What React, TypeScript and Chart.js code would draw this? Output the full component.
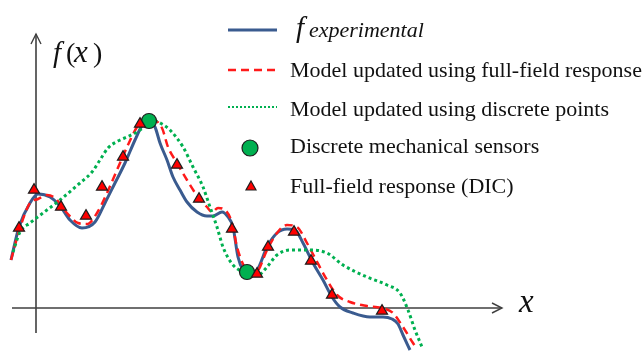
import React, { useEffect, useRef } from "react";
import { Chart, registerables } from "chart.js";

Chart.register(...registerables);

// Measured response f(x)
const experimentalX = [-2.5, -1.7, -0.6, 0.2, 1.4, 2.4, 3.4, 4.6, 5.9, 6.9, 7.9, 8.9, 9.9, 10.7, 11.3, 11.9, 12.4, 13.1, 13.7, 14.4, 15.1, 16.1, 17.1, 17.7, 18.6, 19.2, 19.7, 20.2, 20.7, 21.2, 22.1, 23.1, 24.1, 25.1, 25.9, 26.7, 27.7, 28.7, 29.6, 30.4, 31.7, 33.4, 34.7, 35.6, 36.2, 36.7, 37.4];
const experimentalY = [4.8, 8.1, 10.5, 11.4, 11.1, 10.2, 8.8, 8.0, 8.6, 10.5, 12.5, 14.5, 16.8, 18.4, 18.7, 18.1, 16.5, 14.8, 13.1, 11.8, 10.6, 9.6, 9.2, 9.2, 9.6, 9.1, 8.1, 5.1, 3.8, 3.5, 3.8, 6.1, 7.5, 7.9, 7.8, 6.5, 4.5, 2.8, 1.1, 0.1, -0.5, -0.9, -0.9, -1.1, -1.6, -2.7, -4.2];

// Model updated with the full-field (DIC) response
const fullFieldX = [-2.5, -1.6, -0.6, 0.2, 1.1, 1.9, 3.1, 4.2, 5.1, 6.1, 7.1, 8.1, 9.1, 10.1, 10.8, 11.4, 12.6, 13.2, 14.1, 15.1, 16.2, 17.1, 17.6, 18.2, 18.9, 19.6, 20.1, 20.9, 21.5, 22.1, 23.1, 24.1, 25.1, 26.1, 27.1, 27.9, 29.1, 30.1, 31.4, 33.1, 34.6, 35.7, 36.7, 37.7, 38.1];
const fullFieldY = [4.8, 8.0, 10.5, 10.9, 11.3, 11.0, 9.5, 8.5, 8.4, 9.5, 11.5, 13.8, 16.1, 18.1, 18.9, 18.9, 18.0, 16.1, 14.5, 12.8, 11.1, 10.1, 9.6, 10.0, 9.8, 8.5, 6.1, 4.0, 3.4, 3.6, 5.8, 7.5, 8.3, 8.1, 6.5, 5.0, 2.8, 1.3, 0.6, 0.2, 0.0, -0.5, -1.9, -3.5, -4.1];

// Model updated with the discrete sensor readings only
const discreteX = [-2.3, -1.6, -0.6, 0.7, 2.4, 4.4, 5.6, 6.4, 7.2, 8.2, 9.1, 10.1, 11.1, 11.9, 12.6, 13.4, 14.7, 15.7, 16.7, 17.4, 18.1, 18.7, 19.7, 21.1, 22.2, 23.1, 24.1, 25.4, 27.4, 29.1, 30.7, 33.1, 35.1, 36.4, 37.2, 37.9, 38.6];
const discreteY = [5.6, 7.6, 8.5, 9.5, 10.8, 12.5, 13.6, 14.8, 16.0, 16.7, 17.1, 17.6, 18.3, 18.7, 18.4, 17.8, 16.1, 14.1, 12.1, 10.1, 8.1, 6.1, 4.3, 3.5, 3.3, 4.1, 5.3, 5.8, 5.8, 5.5, 4.3, 3.1, 2.3, 1.5, -0.2, -2.2, -3.9];

// Discrete mechanical sensors
const sensorX = [11.3, 21.1];
const sensorY = [18.7, 3.6];

// Full-field response samples (DIC)
const dicX = [-1.7, -0.2, 2.5, 5.0, 6.6, 8.7, 10.4, 14.1, 16.3, 19.6, 22.1, 23.2, 25.8, 27.5, 29.6, 34.6];
const dicY = [8.0, 11.8, 10.1, 9.2, 12.1, 15.1, 18.4, 14.3, 10.9, 7.9, 3.4, 6.1, 7.6, 4.7, 1.3, -0.3];

// Axis extents
const X_AXIS_FROM = -2.4;
const X_AXIS_TO = 46.6;
const Y_AXIS_FROM = -2.5;
const Y_AXIS_TO = 27.4;

const BLUE = "#3a5b8f";
const RED = "#ff1a1a";
const GREEN = "#00b050";
const SERIF = '"Liberation Serif", "Times New Roman", serif';

const toPoints = (xs: number[], ys: number[]) => xs.map((x, i) => ({ x, y: ys[i] }));

const arrowAxes = {
  id: "arrowAxes",
  beforeDatasetsDraw(chart: any) {
    const { ctx, scales } = chart;
    const xs = scales.x;
    const ys = scales.y;
    const x0 = xs.getPixelForValue(0);
    const y0 = ys.getPixelForValue(0);
    const xl = xs.getPixelForValue(X_AXIS_FROM);
    const xr = xs.getPixelForValue(X_AXIS_TO);
    const yb = ys.getPixelForValue(Y_AXIS_FROM);
    const yt = ys.getPixelForValue(Y_AXIS_TO);
    ctx.save();
    ctx.strokeStyle = "#404040";
    ctx.lineWidth = 1.6;
    ctx.beginPath();
    ctx.moveTo(xl, y0);
    ctx.lineTo(xr, y0);
    ctx.moveTo(x0, yb);
    ctx.lineTo(x0, yt);
    ctx.stroke();
    ctx.lineWidth = 1.4;
    ctx.beginPath();
    ctx.moveTo(xr - 10, y0 - 5);
    ctx.lineTo(xr, y0);
    ctx.lineTo(xr - 10, y0 + 5);
    ctx.moveTo(x0 - 5, yt + 10);
    ctx.lineTo(x0, yt);
    ctx.lineTo(x0 + 5, yt + 10);
    ctx.stroke();

    // axis labels
    ctx.fillStyle = "#111";
    ctx.textBaseline = "alphabetic";
    ctx.textAlign = "left";
    const by = yt + 28;
    ctx.font = `italic 29px ${SERIF}`;
    ctx.fillText("f", x0 + 17, by);
    ctx.font = `28px ${SERIF}`;
    ctx.fillText("(", x0 + 30, by);
    ctx.font = `italic 31px ${SERIF}`;
    ctx.fillText("x", x0 + 38, by);
    ctx.font = `28px ${SERIF}`;
    ctx.fillText(")", x0 + 57, by);
    ctx.font = `italic 33px ${SERIF}`;
    ctx.fillText("x", xr + 17, y0 + 4);
    ctx.restore();
  },
};

const legendBox = {
  id: "legendBox",
  afterDraw(chart: any) {
    const { ctx } = chart;
    const sx0 = 228;
    const sx1 = 277;
    const tx = 290;
    ctx.save();
    ctx.textAlign = "left";
    ctx.textBaseline = "alphabetic";
    ctx.fillStyle = "#111";

    // f_experimental
    ctx.strokeStyle = BLUE;
    ctx.lineWidth = 3;
    ctx.beginPath();
    ctx.moveTo(sx0, 30);
    ctx.lineTo(sx1, 30);
    ctx.stroke();
    ctx.font = `italic 29px ${SERIF}`;
    ctx.fillText("f", tx + 6, 37);
    ctx.font = `italic 22px ${SERIF}`;
    ctx.fillText("experimental", tx + 19, 37);

    // full-field model
    ctx.strokeStyle = RED;
    ctx.lineWidth = 2.5;
    ctx.setLineDash([8, 5]);
    ctx.beginPath();
    ctx.moveTo(sx0, 70);
    ctx.lineTo(sx1, 70);
    ctx.stroke();
    ctx.font = `22px ${SERIF}`;
    ctx.fillText("Model updated using full-field response", tx, 77);

    // discrete model
    ctx.strokeStyle = GREEN;
    ctx.lineWidth = 2;
    ctx.setLineDash([2, 2]);
    ctx.beginPath();
    ctx.moveTo(sx0, 107);
    ctx.lineTo(sx1, 107);
    ctx.stroke();
    ctx.setLineDash([]);
    ctx.fillText("Model updated using discrete points", tx, 116);

    // sensor marker
    ctx.fillStyle = GREEN;
    ctx.strokeStyle = "#1e1e1e";
    ctx.lineWidth = 1.2;
    ctx.beginPath();
    ctx.arc(250, 148, 8, 0, Math.PI * 2);
    ctx.fill();
    ctx.stroke();
    ctx.fillStyle = "#111";
    ctx.fillText("Discrete mechanical sensors", tx, 153);

    // DIC marker
    ctx.fillStyle = "#ff0000";
    ctx.beginPath();
    ctx.moveTo(251, 181);
    ctx.lineTo(256, 190);
    ctx.lineTo(246, 190);
    ctx.closePath();
    ctx.fill();
    ctx.stroke();
    ctx.fillStyle = "#111";
    ctx.fillText("Full-field response (DIC)", tx, 193);
    ctx.restore();
  },
};

export default function App() {
  const canvasRef = useRef<HTMLCanvasElement | null>(null);

  useEffect(() => {
    const canvas = canvasRef.current;
    if (!canvas) return;
    const chart = new Chart(canvas, {
      type: "line",
      data: {
        datasets: [
          {
            label: "f experimental",
            data: toPoints(experimentalX, experimentalY),
            borderColor: BLUE,
            borderWidth: 3,
            pointRadius: 0,
            cubicInterpolationMode: "monotone",
            order: 5,
          },
          {
            label: "Model updated using full-field response",
            data: toPoints(fullFieldX, fullFieldY),
            borderColor: RED,
            borderWidth: 2.5,
            borderDash: [8, 5],
            pointRadius: 0,
            cubicInterpolationMode: "monotone",
            order: 4,
          },
          {
            label: "Model updated using discrete points",
            data: toPoints(discreteX, discreteY),
            borderColor: GREEN,
            borderWidth: 3,
            borderDash: [3, 3],
            pointRadius: 0,
            cubicInterpolationMode: "monotone",
            order: 3,
          },
          {
            label: "Discrete mechanical sensors",
            data: toPoints(sensorX, sensorY),
            showLine: false,
            pointStyle: "circle",
            pointRadius: 7.5,
            pointBackgroundColor: GREEN,
            pointBorderColor: "#1e1e1e",
            pointBorderWidth: 1.2,
            order: 2,
          },
          {
            label: "Full-field response (DIC)",
            data: toPoints(dicX, dicY),
            showLine: false,
            pointStyle: "triangle",
            pointRadius: 6.4,
            pointBackgroundColor: "#ff0000",
            pointBorderColor: "#1e1e1e",
            pointBorderWidth: 1.2,
            order: 1,
          },
        ],
      },
      options: {
        animation: false,
        responsive: false,
        devicePixelRatio: 1,
        layout: { padding: 0, autoPadding: false },
        events: [],
        scales: {
          x: { type: "linear", display: false, min: -3.6, max: 60.7 },
          y: { type: "linear", display: false, min: -4.3, max: 30.8 },
        },
        plugins: {
          legend: { display: false },
          tooltip: { enabled: false },
        },
      },
      plugins: [arrowAxes, legendBox],
    });
    return () => chart.destroy();
  }, []);

  return (
    <div style={{ position: "fixed", left: 0, top: 0, width: 643, height: 351, background: "#fff" }}>
      <canvas ref={canvasRef} width={643} height={351} />
    </div>
  );
}
